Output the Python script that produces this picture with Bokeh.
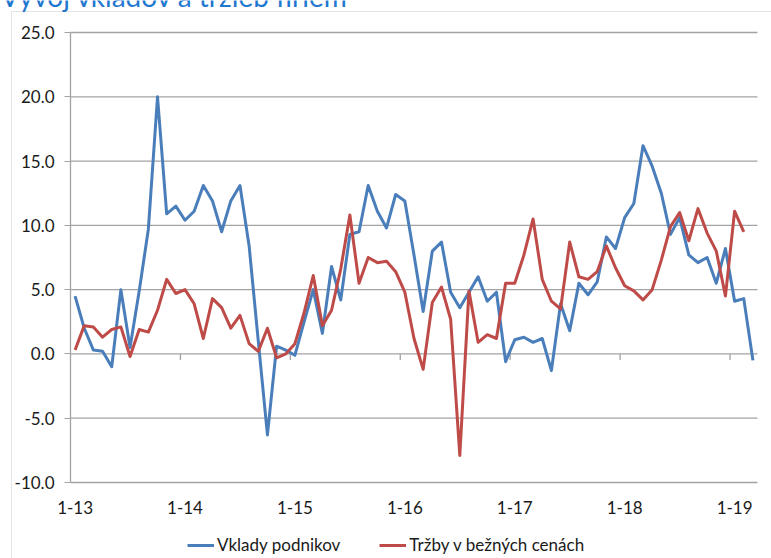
from bokeh.plotting import figure
from bokeh.models import (Range1d, FixedTicker, NumeralTickFormatter, Legend, LegendItem,
                          BoxAnnotation, LinearAxis)
from bokeh.core.properties import value
from bokeh.embed import file_html
from bokeh.resources import INLINE

FONT = "Lato"

title_text = "Vývoj vkladov a tržieb firiem"
series_names = ["Vklady podnikov", "Tržby v bežných cenách"]
tick_labels = ["1-13", "1-14", "1-15", "1-16", "1-17", "1-18", "1-19"]
months_per_label = 12

vklady = [4.5, 2.0, 0.3, 0.2, -1.0, 5.0, 0.5, 4.9, 9.7, 20.0,
          10.9, 11.5, 10.4, 11.1, 13.1, 11.9, 9.5, 11.9, 13.1, 8.4,
          1.0, -6.3, 0.6, 0.3, -0.1, 2.5, 5.0, 1.6, 6.8, 4.2,
          9.3, 9.5, 13.1, 11.1, 9.8, 12.4, 11.9, 7.7, 3.3, 8.0,
          8.7, 4.8, 3.6, 4.8, 6.0, 4.1, 4.8, -0.6, 1.1, 1.3,
          0.9, 1.2, -1.3, 3.9, 1.8, 5.5, 4.6, 5.6, 9.1, 8.2,
          10.6, 11.7, 16.2, 14.6, 12.5, 9.3, 10.6, 7.7, 7.1, 7.5,
          5.5, 8.2, 4.1, 4.3, -0.5]

trzby = [0.3, 2.2, 2.1, 1.3, 1.9, 2.1, -0.2, 1.9, 1.7, 3.4,
         5.8, 4.7, 5.0, 3.9, 1.2, 4.3, 3.6, 2.0, 3.0, 0.8,
         0.2, 2.0, -0.3, 0.0, 0.8, 3.2, 6.1, 2.2, 3.4, 6.6,
         10.8, 5.5, 7.5, 7.1, 7.2, 6.4, 4.8, 1.2, -1.2, 4.0,
         5.2, 2.7, -7.9, 4.9, 0.9, 1.5, 1.2, 5.5, 5.5, 7.7,
         10.5, 5.8, 4.1, 3.5, 8.7, 6.0, 5.8, 6.4, 8.4, 6.7,
         5.3, 4.9, 4.2, 5.0, 7.3, 9.9, 11.0, 8.8, 11.3, 9.4,
         8.0, 4.5, 11.1, 9.5]

y_ticks = [-10, -5, 0, 5, 10, 15, 20, 25]

n_cat = len(vklady)
x_v = list(range(len(vklady)))
x_t = list(range(len(trzby)))

GRID = "#a3a3a3"
BLUE = "#4A7EBB"
RED = "#BE4B48"

# page layout (pixels)
W, H = 771, 558
PL, PR, PT, PB = 70, 757, 32, 482

y_lo, y_hi = y_ticks[0], y_ticks[-1]
x_lo, x_hi = -0.5, n_cat - 0.5
yppu = (PB - PT) / (y_hi - y_lo)
xppu = (PR - PL) / (x_hi - x_lo)


def px_x(px):
    return x_lo + (px - PL) / xppu


def px_y(py):
    return y_lo + (PB - py) / yppu


p = figure(width=W, height=H, output_backend="svg", toolbar_location=None,
           x_range=Range1d(px_x(0), px_x(W)), y_range=Range1d(px_y(H), px_y(0)),
           x_axis_location=None, y_axis_location=None,
           min_border=0, min_border_left=0, min_border_right=0,
           min_border_top=0, min_border_bottom=0,
           margin=(0, 0, 0, 0))
p.outline_line_color = None
p.background_fill_color = "white"
p.border_fill_color = "white"
p.xgrid.visible = False
p.ygrid.visible = False

# chart border
p.add_layout(BoxAnnotation(left=px_x(11), top=px_y(11), right=px_x(W + 20), bottom=px_y(H + 20),
                           fill_alpha=0, line_color="#a6a6a6", line_width=1, level="underlay"))

# horizontal gridlines
p.segment(x0=[x_lo] * len(y_ticks), x1=[x_hi] * len(y_ticks), y0=y_ticks, y1=y_ticks,
          line_color=GRID, line_width=1.3)

# y axis
yax = LinearAxis(fixed_location=x_lo, bounds=(y_lo, y_hi))
yax.ticker = FixedTicker(ticks=y_ticks)
yax.formatter = NumeralTickFormatter(format="0.0")
yax.axis_line_color = GRID
yax.axis_line_width = 1.3
yax.major_tick_line_color = GRID
yax.major_tick_out = 6
yax.major_tick_in = 0
yax.minor_tick_line_color = None
yax.major_label_standoff = 10
yax.major_label_text_font = FONT
yax.major_label_text_font_size = "17px"
yax.major_label_text_color = "#1a1a1a"
p.add_layout(yax, "left")

# x axis (labels only)
xticks = [i * months_per_label for i in range(len(tick_labels))]
xax = LinearAxis(fixed_location=y_lo, bounds=(x_lo, x_hi))
xax.ticker = FixedTicker(ticks=xticks)
xax.major_label_overrides = {t: lab for t, lab in zip(xticks, tick_labels)}
xax.axis_line_color = None
xax.major_tick_line_color = None
xax.minor_tick_line_color = None
xax.major_label_standoff = 12
xax.major_label_text_font = FONT
xax.major_label_text_font_size = "17px"
xax.major_label_text_color = "#1a1a1a"
p.add_layout(xax, "below")

# category-boundary tick marks on the zero line
bounds = [t - 0.5 for t in xticks[1:]]
p.segment(x0=bounds, y0=[0] * len(bounds), x1=bounds, y1=[-6 / yppu] * len(bounds),
          line_color=GRID, line_width=1.3)

r1 = p.line(x_v, vklady, line_color=BLUE, line_width=3, line_join="round")
r2 = p.line(x_t, trzby, line_color=RED, line_width=3, line_join="round")

legend = Legend(items=[LegendItem(label=series_names[0], renderers=[r1]),
                       LegendItem(label=series_names[1], renderers=[r2])],
                orientation="horizontal", location=(187, 3),
                border_line_color=None, background_fill_alpha=0,
                padding=0, spacing=39, glyph_width=27, glyph_height=20,
                label_standoff=3, label_text_font=FONT, label_text_font_size="17px",
                label_text_color="#1a1a1a", margin=0)
p.add_layout(legend)

p.text(x=[px_x(0)], y=[px_y(-5)], text=[title_text],
       text_font=value(FONT), text_font_size=value("28px"), text_color="#1f77d0",
       text_baseline="alphabetic", text_align="left")

open("out.html", "w").write(file_html(p, INLINE))
